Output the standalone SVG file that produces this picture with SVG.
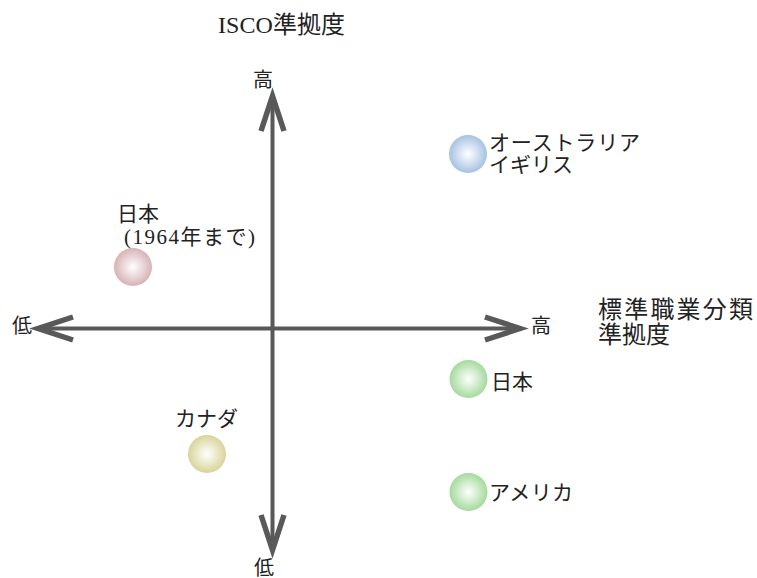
<svg xmlns="http://www.w3.org/2000/svg" width="757" height="578" viewBox="0 0 757 578">
<style>
text{font-family:"Liberation Serif","Noto Sans CJK JP",serif;fill:#222}
.lbl{font-size:21px}
.axl{font-size:20px}
.ttl{font-size:24px}
.ax{stroke:#595959;stroke-width:4;fill:none}
.hd{stroke:#595959;stroke-width:5.5;fill:none;stroke-linejoin:miter;stroke-miterlimit:10}
</style>
<defs>
<radialGradient id="gBlue" cx="0.5" cy="0.5" r="0.5"><stop offset="0" stop-color="#ffffff"/><stop offset="1" stop-color="#a7c2e2"/></radialGradient>
<radialGradient id="gPink" cx="0.5" cy="0.5" r="0.5"><stop offset="0" stop-color="#ffffff"/><stop offset="1" stop-color="#d8b2b7"/></radialGradient>
<radialGradient id="gYel" cx="0.5" cy="0.5" r="0.5"><stop offset="0" stop-color="#ffffff"/><stop offset="1" stop-color="#d8d49a"/></radialGradient>
<radialGradient id="gGrn" cx="0.5" cy="0.5" r="0.5"><stop offset="0" stop-color="#ffffff"/><stop offset="1" stop-color="#a4da9c"/></radialGradient>
</defs>
<g id="connectors">
<line class="ax" x1="38" y1="328.5" x2="522" y2="328.5"/>
<line class="ax" x1="272.5" y1="96" x2="272.5" y2="549"/>
<polyline class="hd" points="73,317 38,328.5 73,340"/>
<polyline class="hd" points="485,317 520,328.5 485,340"/>
<polyline class="hd" points="261,131 272.5,96 284,131"/>
<polyline class="hd" points="261,515 272.5,550 284,515"/>
</g>
<g id="titles">
<text class="ttl" x="218" y="33" textLength="127">ISCO準拠度</text>
<text class="ttl" x="598" y="318" textLength="155">標準職業分類</text>
<text class="ttl" x="598" y="343">準拠度</text>
</g>
<g id="axis-labels">
<text class="axl" x="253" y="87">高</text>
<text class="axl" x="254" y="575">低</text>
<text class="axl" x="12" y="333">低</text>
<text class="axl" x="531" y="333">高</text>
</g>
<g id="node-aus">
<circle cx="468" cy="154" r="19" fill="url(#gBlue)"/>
<text class="lbl" x="489" y="150" textLength="151">オーストラリア</text>
<text class="lbl" x="489" y="172">イギリス</text>
</g>
<g id="node-japan1964">
<circle cx="133" cy="267" r="19" fill="url(#gPink)"/>
<text class="lbl" x="117" y="221">日本</text>
<text class="lbl" x="124" y="244" textLength="131">(1964年まで)</text>
</g>
<g id="node-canada">
<circle cx="207" cy="454" r="19" fill="url(#gYel)"/>
<text class="lbl" x="175" y="426">カナダ</text>
</g>
<g id="node-japan">
<circle cx="468.5" cy="379" r="19" fill="url(#gGrn)"/>
<text class="lbl" x="491" y="389">日本</text>
</g>
<g id="node-usa">
<circle cx="468.5" cy="492" r="19" fill="url(#gGrn)"/>
<text class="lbl" x="489" y="500" textLength="84">アメリカ</text>
</g>
</svg>
